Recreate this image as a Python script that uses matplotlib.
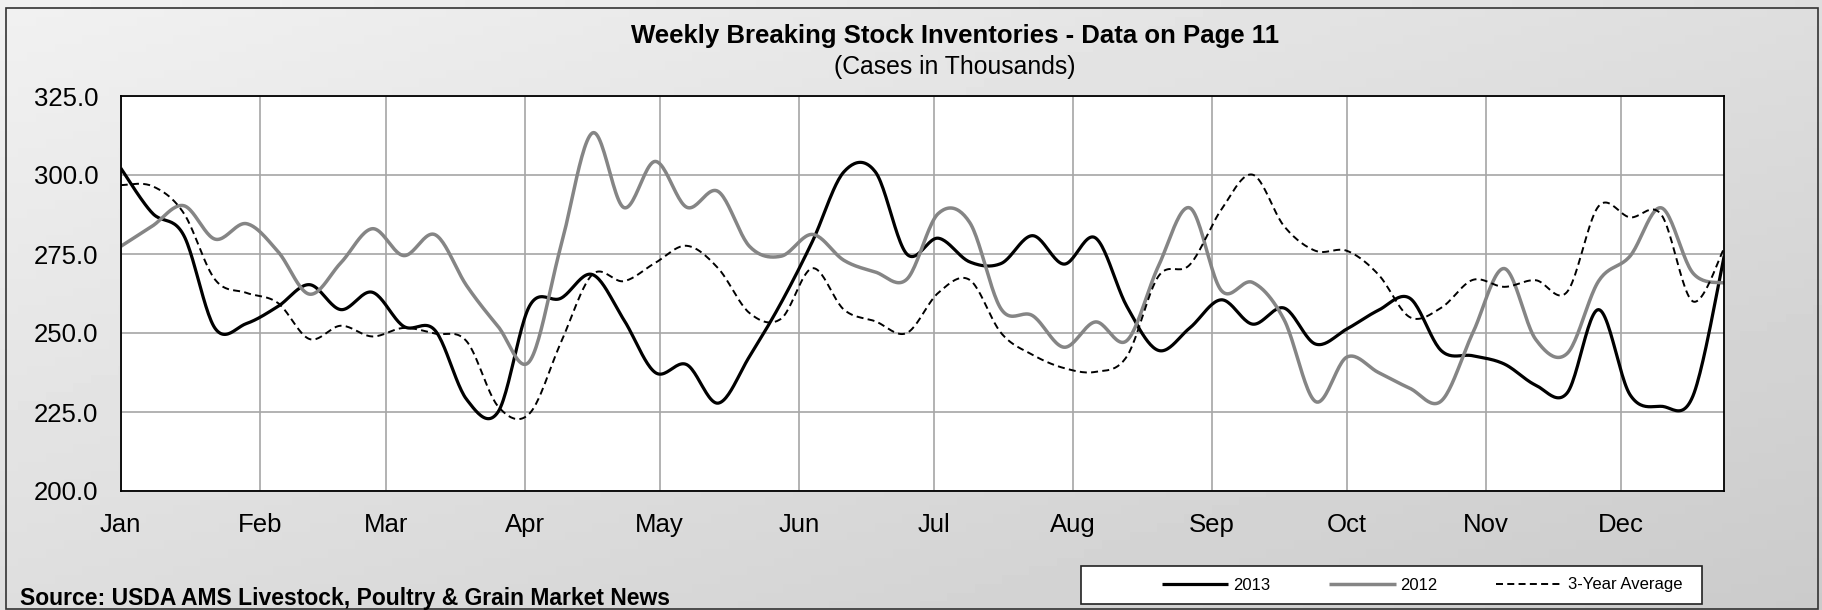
import matplotlib
matplotlib.use("Agg")
import matplotlib.pyplot as plt
import matplotlib.dates as mdates
from matplotlib.patches import Rectangle
import numpy as np
import pandas as pd

plt.rcParams['font.family'] = ['Liberation Sans', 'DejaVu Sans']

# weekly observations, cases in thousands
weeks = pd.date_range('2013-01-01', periods=52, freq='7D')

y2013 = [302.2, 288, 281, 251.5, 253, 258.4, 265.3, 257.4, 262.9, 252.1,
         250.8, 229, 225, 258.5, 261, 268.5, 254.2, 237.5, 240, 227.8,
         242.6, 259.5, 279, 301, 301, 275, 280, 272.5, 272, 280.8,
         271.8, 280.1, 258.4, 244.5, 251.6, 260.5, 252.8, 257.9, 246.5, 251.3,
         257.2, 261, 244.4, 242.8, 240.2, 233.5, 231, 257.4, 230.5, 226.8,
         230, 274.5]
y2012 = [277.4, 283.8, 290.3, 279.7, 284.6, 275.8, 262.3, 272.2, 283, 274.5,
         281.1, 265, 252.1, 241, 277.5, 313.3, 289.7, 304.3, 289.8, 294.8,
         277.4, 274.3, 281.2, 273, 269.3, 267, 287.8, 285, 257.6, 255.5,
         245.5, 253.5, 247.6, 271.1, 289.6, 263.5, 266, 254.2, 228.3, 242.4,
         237.5, 232.5, 228.5, 250, 270.4, 248, 243.5, 266.4, 274.3, 289.6,
         269, 265.8]
y_avg = [296.8, 296.5, 288, 266.9, 262.7, 259.5, 248.1, 252.3, 248.9, 251.6,
         249.8, 247.4, 226.8, 224.5, 247, 268.5, 266.4, 272.2, 277.6, 270.5,
         256.3, 254.5, 270.5, 257.4, 253.7, 250, 262.7, 266.8, 250, 243.1,
         238.9, 237.7, 242.6, 267.9, 271.6, 289, 300.1, 283.8, 276, 276,
         268.5, 255, 258, 266.8, 264.6, 266.7, 263, 290.1, 286.6, 287.4,
         260, 276.9]

series = [('2013', y2013, 'black', '-', 2.3),
          ('2012', y2012, '#858585', '-', 2.5),
          ('3-Year Average', y_avg, 'black', '--', 1.4)]


def smooth(x, y, n=24):
    # excel style smoothed line (bezier through the points)
    pts = np.column_stack([x, y])
    p = np.vstack([pts[0], pts, pts[-1]])
    t = np.linspace(0, 1, n, endpoint=False)[:, None]
    out = []
    for i in range(1, len(p) - 2):
        p0, p1, p2, p3 = p[i - 1], p[i], p[i + 1], p[i + 2]
        c1 = p1 + (p2 - p0) / 6
        c2 = p2 - (p3 - p1) / 6
        out.append((1 - t)**3 * p1 + 3 * (1 - t)**2 * t * c1
                   + 3 * (1 - t) * t**2 * c2 + t**3 * p2)
    out.append(pts[-1:])
    out = np.vstack(out)
    return out[:, 0], out[:, 1]


W, H = 1822, 610
fig = plt.figure(figsize=(W / 100, H / 100), dpi=100)

# grey gradient background
bg = fig.add_axes([0, 0, 1, 1], zorder=-10)
xx, yy = np.meshgrid(np.linspace(0, 1, 200), np.linspace(0, 1, 70))
bg.imshow(0.945 - 0.075 * xx - 0.075 * yy, cmap='gray', vmin=0, vmax=1,
          aspect='auto', extent=[0, 1, 0, 1], origin='upper')
bg.set_xlim(0, 1)
bg.set_ylim(0, 1)
bg.axis('off')

fig.patches.append(Rectangle((6 / W, 1.5 / H), 1812 / W, 601 / H,
                             transform=fig.transFigure, fill=False,
                             edgecolor='#333333', lw=1.2, zorder=1))

ax = fig.add_axes([120.7 / W, (H - 491) / H, 1603.6 / W, 395 / H])
ax.set_facecolor('white')

x = mdates.date2num(weeks)
handles = []
for name, vals, col, ls, lw in series:
    sx, sy = smooth(x, vals)
    if ls == '--':
        ln, = ax.plot(sx, sy, color=col, lw=lw, linestyle=(0, (3.6, 2.2)), label=name)
    else:
        ln, = ax.plot(sx, sy, color=col, lw=lw, label=name, solid_capstyle='butt')
    handles.append(ln)

ax.set_ylim(200, 325)
ax.set_yticks(np.arange(200, 326, 25))
ax.yaxis.set_major_formatter(matplotlib.ticker.FormatStrFormatter('%.1f'))
ax.set_xlim(mdates.date2num(pd.Timestamp('2013-01-01')),
            mdates.date2num(pd.Timestamp('2013-12-24')))
ax.xaxis.set_major_locator(mdates.MonthLocator())
ax.xaxis.set_major_formatter(mdates.DateFormatter('%b'))
ax.tick_params(length=0, labelsize=18.5)
ax.tick_params(axis='y', pad=16)
ax.tick_params(axis='x', pad=15.5)
ax.grid(True, color='#a6a6a6', lw=1.2)
ax.set_axisbelow(True)
for s in ax.spines.values():
    s.set_color('black')
    s.set_linewidth(1.3)

fig.text(955 / W, 1 - 36 / H, 'Weekly Breaking Stock Inventories - Data on Page 11',
         ha='center', va='center', fontsize=18.5, fontweight='bold')
fig.text(955 / W, 1 - 67 / H, '(Cases in Thousands)',
         ha='center', va='center', fontsize=17.8)
fig.text(20 / W, 1 - 598 / H, 'Source: USDA AMS Livestock, Poultry & Grain Market News',
         ha='left', va='center', fontsize=16.5, fontweight='bold')

# legend box
fig.patches.append(Rectangle((1081 / W, (H - 604) / H), 621 / W, 38 / H,
                             transform=fig.transFigure, facecolor='white',
                             edgecolor='#222222', lw=1.2, zorder=2))
fig.legend(handles=handles, loc='center', bbox_to_anchor=(1422 / W, (H - 585) / H),
           ncol=3, frameon=False, fontsize=12, handlelength=4,
           handletextpad=0.3, columnspacing=3.5)

fig.savefig('out.png', dpi=100)
